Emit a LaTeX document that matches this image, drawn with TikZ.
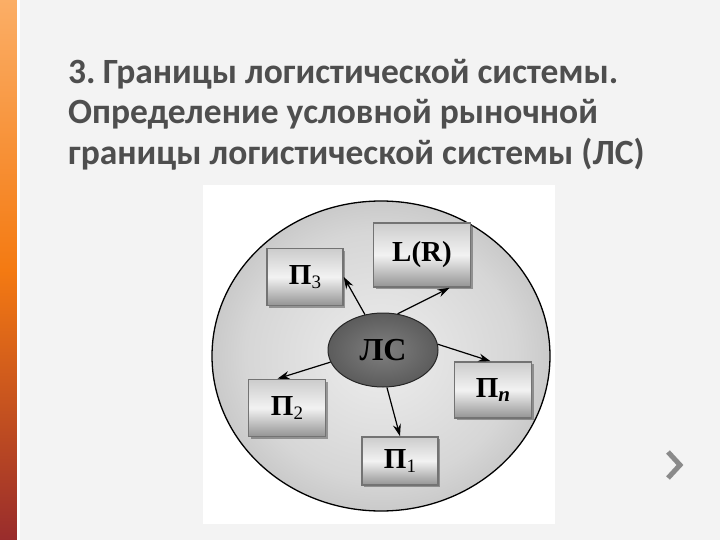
\documentclass[tikz,border=0pt]{standalone}
\usepackage{fontspec}
\setmainfont{Liberation Serif}
\newfontfamily\titlefont{Carlito}
\usepackage{tikz}
\usetikzlibrary{positioning, arrows.meta, shadows, shapes.geometric}
\usepackage{xcolor}
\definecolor{titlegray}{HTML}{4E4E4E}
\definecolor{pagebg}{HTML}{F3F3F3}
\definecolor{barlight}{HTML}{FBAE66}
\definecolor{barmid}{HTML}{F47A12}
\definecolor{bardark}{HTML}{992C2C}
\definecolor{chevgray}{HTML}{8A8A8A}
\pgfdeclareradialshading{bigdisc}{\pgfpoint{0bp}{0bp}}{color(0bp)=(white!93!black); color(20bp)=(white!84!black); color(50bp)=(white!55!black); color(70bp)=(white!55!black)}
\pgfdeclareradialshading{lsdisc}{\pgfpoint{0bp}{0bp}}{color(0bp)=(black!50); color(25bp)=(black!64); color(50bp)=(black!95); color(70bp)=(black!95)}
\newcommand{\idx}[1]{\raisebox{-0.3ex}{\fontsize{19}{19}\selectfont\mdseries #1}}

\begin{document}
\begin{tikzpicture}[x=1pt, y=-1pt, >={Stealth[length=12pt,width=8pt]},
                headline/.style={anchor=base west, inner sep=0pt, text=titlegray,
                  font=\titlefont\fontsize{35.5}{41}\selectfont\bfseries},
                part/.style={rectangle, draw=black!55, line width=1.6pt, inner sep=0pt,
                  top color=black!20, bottom color=black!42, middle color=black!5,
                  drop shadow={shadow xshift=2pt, shadow yshift=-2pt, fill=black!70, opacity=0.5},
                  font=\fontsize{29}{29}\selectfont\bfseries},
                link/.style={->, line width=1.2pt}]

                \useasboundingbox (0,0) rectangle (720,540);
                \fill[pagebg] (0,0) rectangle (720,540);
                \shade[top color=barlight, bottom color=barmid] (0,0) rectangle (17,270);
                \shade[top color=barmid, bottom color=bardark] (0,270) rectangle (17,540);
                \fill[white] (17,0) rectangle (19.5,540);

                \node[headline] (title1) at (68,84) {3.\hspace{-0.1em} Границы логистической системы.};
                \node[headline] (title2) at (68,124) {Определение условной рыночной};
                \node[headline] (title3) at (68,165) {границы логистической системы (ЛС)};

                \fill[white] (203,185) rectangle (555,524);
                \node[ellipse, draw, line width=1.3pt, shading=bigdisc,
                  minimum width=338pt, minimum height=310pt] (border) at (381,356) {};

                \node[ellipse, draw=black!85, line width=1pt, shading=lsdisc, minimum width=110pt, minimum height=74pt,
                  font=\fontsize{32}{32}\selectfont\bfseries] (ls) at (383,350) {ЛС};

                \node[part, minimum width=76pt, minimum height=57pt] (p3) at (305,277) {П\idx{3}};
                \node[part, minimum width=97pt, minimum height=64pt] (lr) at (422,255) {L(R)};
                \node[part, minimum width=77pt, minimum height=56pt] (pn) at (493,390)
                  {П\raisebox{-0.3ex}{\fontsize{21}{21}\selectfont\bfseries\itshape n}};
                \node[part, minimum width=77pt, minimum height=57pt] (p2) at (287,408) {П\idx{2}};
                \node[part, minimum width=76pt, minimum height=48pt] (p1) at (400,461) {П\idx{1}};

                \draw[link] (ls.117) -- (p3.east);
                \draw[link] (ls.68) -- (lr.-50);
                \draw[link] (ls.6) -- (pn.95);
                \draw[link] (ls.193) -- (p2.108);
                \draw[link] (ls.276) -- (p1.north);

                \draw[chevgray, line width=5pt] (668,452) -- (680,465) -- (668,478);

            \end{tikzpicture}
\end{document}
